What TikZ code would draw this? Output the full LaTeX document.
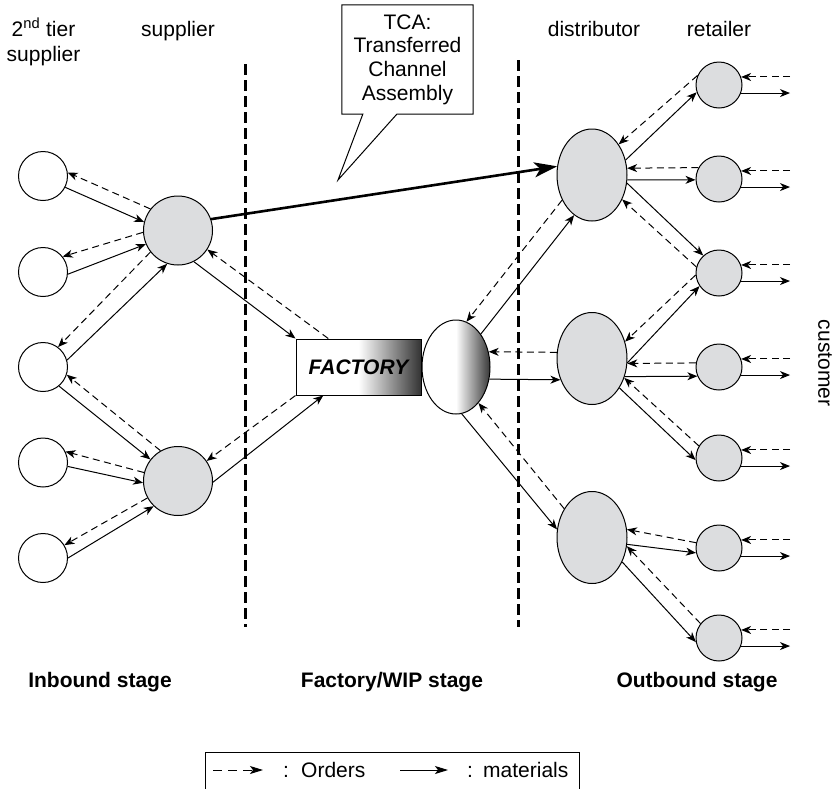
\documentclass[tikz,border=0pt]{standalone}
\usepackage{fontspec}
\setmainfont{Liberation Sans}
\usetikzlibrary{arrows.meta,calc,shapes.geometric}
\definecolor{nodegray}{RGB}{220,221,223}
\begin{document}
\begin{tikzpicture}[x=1pt,y=-1pt,
  every node/.style={font=\fontsize{21}{24}\selectfont, inner sep=0pt},
  tier/.style={circle, draw, line width=1pt, fill=white, minimum size=49pt},
  supp/.style={circle, draw, line width=1pt, fill=nodegray, minimum size=69pt},
  dist/.style={ellipse, draw, line width=1pt, fill=nodegray, minimum width=70pt, minimum height=92pt},
  retl/.style={circle, draw, line width=1pt, fill=nodegray, minimum size=46pt},
  mat/.style={line width=1pt, -{Stealth[length=10pt,width=8pt,inset=3pt]}},
  ord/.style={mat, dash pattern=on 7pt off 4.5pt},
  divider/.style={line width=2.5pt, dash pattern=on 11pt off 5pt},
  tcaflow/.style={line width=2.6pt, -{Stealth[length=23pt,width=15pt,inset=6pt]}},
  toplabel/.style={anchor=base},
  stagelabel/.style={anchor=base, font=\fontsize{21}{24}\selectfont\bfseries},
  legtext/.style={anchor=base west},
]
\useasboundingbox (0,0) rectangle (838,788);

% stage dividers
\draw[divider] (245.3,64) -- (245.3,627);
\draw[divider] (518.5,60) -- (518.5,627);

% second tier suppliers
\node[tier] (t1) at (43,176) {};
\node[tier] (t2) at (43,272) {};
\node[tier] (t3) at (43,367) {};
\node[tier] (t4) at (43,462.5) {};
\node[tier] (t5) at (43,558) {};

% suppliers
\node[supp] (sA) at (178,230.5) {};
\node[supp] (sB) at (178,481) {};

% factory and work in process
\node[draw, line width=1pt, minimum width=125pt, minimum height=56pt,
      left color=white, right color=black!80, middle color=white,
      font=\fontsize{21}{24}\selectfont\bfseries\itshape] (factory) at (358.5,367) {FACTORY};
\node[ellipse, draw, line width=1pt, minimum width=68pt, minimum height=94pt,
      left color=white, right color=black!78, middle color=white] (wip) at (456,367) {};

% distributors
\node[dist] (dA) at (592,175) {};
\node[dist] (dB) at (592,358.5) {};
\node[dist] (dC) at (592,537.5) {};

% retailers
\node[retl] (r1) at (719,85) {};
\node[retl] (r2) at (719,179) {};
\node[retl] (r3) at (719,273) {};
\node[retl] (r4) at (719,367) {};
\node[retl] (r5) at (719,458) {};
\node[retl] (r6) at (719,548) {};
\node[retl] (r7) at (719,638) {};

% inbound flows
\draw[mat] (t1.-27) -- (sA.166);
\draw[ord] (sA.142) -- (t1.8);
\draw[mat] (t2.-5) -- (sA.203);
\draw[ord] (sA.183) -- (t2.38);
\draw[mat] (t3.16) -- (sA.252);
\draw[ord] (sA.218) -- (t3.53);
\draw[mat] (t3.-50) -- (sB.142);
\draw[ord] (sB.120) -- (t3.-18);
\draw[mat] (t4.-9) -- (sB.183);
\draw[ord] (sB.166) -- (t4.26);
\draw[mat] (t5.0) -- (sB.226);
\draw[ord] (sB.209) -- (t5.31);

% suppliers to factory
\draw[mat] (sA.-63) -- (factory.north west);
\draw[ord] ($(factory.north west)!0.26!(factory.north east)$) -- (sA.-33);
\draw[mat] (sB.-2) -- ($(factory.south west)!0.22!(factory.south east)$);
\draw[ord] (factory.south west) -- (sB.35);

% work in process to distributors
\draw[mat] (wip.53) -- (dA.246);
\draw[ord] (dA.220) -- (wip.77);
\draw[mat] (wip.-20) -- (dB.214);
\draw[ord] (dB.170) -- (wip.25);
\draw[mat] (wip.-83) -- (dC.167);
\draw[ord] (dC.134) -- (wip.-58);

% distributors to retailers
\draw[mat] (dA.24) -- (r1.198);
\draw[ord] (r1.156) -- (dA.49);
\draw[mat] (dA.-8) -- (r2.182);
\draw[ord] (r2.151) -- (dA.11);
\draw[mat] (dA.-13) -- (r3.132);
\draw[ord] (r3.165) -- (dA.-39);
\draw[mat] (dB.-7) -- (r3.214);
\draw[ord] (r3.185) -- (dB.27);
\draw[mat] (dB.-29) -- (r4.203);
\draw[ord] (r4.170) -- (dB.-8);
\draw[mat] (dB.-47) -- (r5.185);
\draw[ord] (r5.149) -- (dB.-31);
\draw[mat] (dC.-11) -- (r6.192);
\draw[ord] (r6.167) -- (dC.13);
\draw[mat] (dC.-39) -- (r7.190);
\draw[ord] (r7.142) -- (dC.-14);

% retailers to customers
\coordinate (cust) at (790,0);
\foreach \r in {r1,r2,r3,r4,r5,r6,r7}{
  \draw[ord] (cust |- \r.20) -- (\r.20);
  \draw[mat] (\r.-20) -- (cust |- \r.-20);
}

% transferred channel assembly
\node[align=center, minimum width=131pt, minimum height=109pt,
      font=\fontsize{21}{23.6}\selectfont] (tca) at (407.5,59.5)
      {TCA:\\Transferred\\Channel\\Assembly};
\coordinate (tcatip) at (338,180);
\draw[line width=1pt] (tca.north west) -- (tca.north east) -- (tca.south east)
  -- ($(tca.south west)+(55,0)$) -- (tcatip) -- ($(tca.south west)+(21,0)$)
  -- (tca.south west) -- cycle;
\draw[tcaflow] (sA.19) -- (dA.166);

% column labels
\node[toplabel] (l2nd) at (43.5,36) {2\textsuperscript{nd} tier};
\node[toplabel] (l2ndb) at (43.5,61) {supplier};
\node[toplabel] (lsup) at (178,36) {supplier};
\node[toplabel] (ldist) at (594,36) {distributor};
\node[toplabel] (lret) at (719,36) {retailer};
\node[rotate=-90] (lcust) at (825,363) {customer};

% stage labels
\node[stagelabel] (sin) at (100,687) {Inbound stage};
\node[stagelabel] (sfac) at (392,687) {Factory/WIP stage};
\node[stagelabel] (sout) at (697,687) {Outbound stage};

% legend
\draw[line width=1pt] (205,790) -- (205,752) -- (579,752) -- (579,790);
\coordinate (lo1) at (213,770);
\coordinate (lo2) at (263,770);
\draw[ord, dash pattern=on 9pt off 6pt, -{Stealth[length=13pt,width=8pt,inset=3pt]}] (lo1) -- (lo2);
\node[legtext] (lc1) at (283,777) {:};
\node[legtext] (lord) at (301,777) {Orders};
\coordinate (lm1) at (400,770);
\coordinate (lm2) at (448,770);
\draw[mat, -{Stealth[length=13pt,width=8pt,inset=3pt]}] (lm1) -- (lm2);
\node[legtext] (lc2) at (467,777) {:};
\node[legtext] (lmat) at (483,777) {materials};
\end{tikzpicture}
\end{document}
